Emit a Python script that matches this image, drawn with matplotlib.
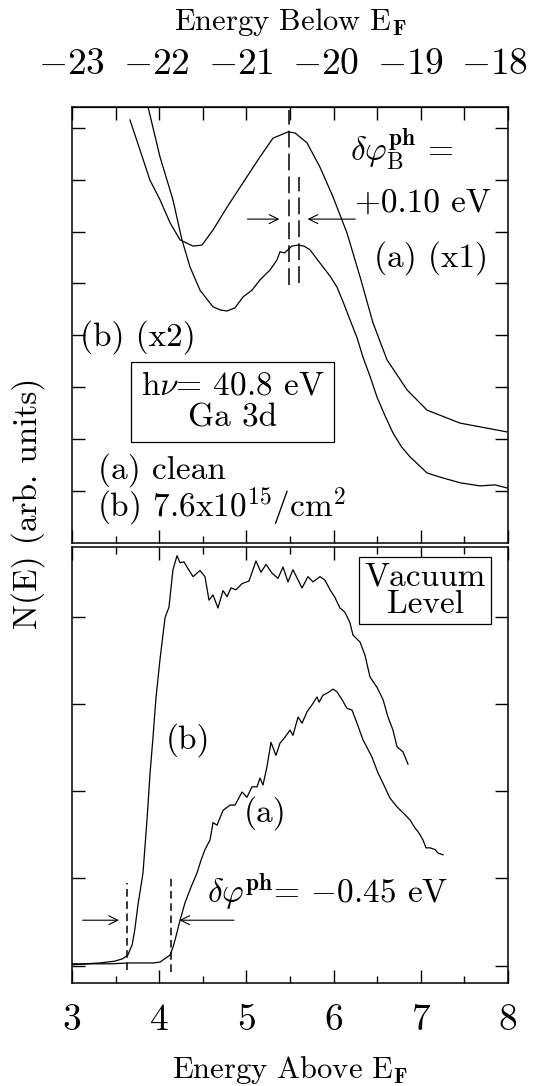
import numpy as np
import matplotlib
matplotlib.use("Agg")
import matplotlib.pyplot as plt

plt.rcParams['font.family'] = 'cmr10'
plt.rcParams['mathtext.fontset'] = 'cm'
plt.rcParams['axes.unicode_minus'] = False
plt.rcParams['axes.formatter.use_mathtext'] = True

# ---- top panel: Ga 3d core level, (a) clean x1, (b) covered x2
ga_a_x = [3.665, 3.78, 3.894, 4.01, 4.124, 4.239, 4.388, 4.491, 4.617, 4.778, 4.961, 5.156,
          5.305, 5.477, 5.557, 5.695, 5.844, 5.993, 6.154, 6.303, 6.452, 6.612, 6.842, 7.071,
          7.45, 7.989]
ga_a_y = [8.15, 7.57, 6.99, 6.61, 6.17, 5.84, 5.72, 5.74, 6.03, 6.47, 6.94, 7.44,
          7.80, 7.92, 7.90, 7.71, 7.24, 6.67, 5.97, 5.13, 4.24, 3.53, 2.95, 2.56,
          2.31, 2.14]
ga_b_x = [3.84, 3.872, 4.009, 4.158, 4.261, 4.353, 4.468, 4.617, 4.70, 4.778, 4.869, 4.961,
          5.064, 5.156, 5.271, 5.35, 5.385, 5.44, 5.477, 5.52, 5.592, 5.66, 5.729, 5.80,
          5.878, 5.96, 6.039, 6.11, 6.188, 6.27, 6.337, 6.42, 6.498, 6.59, 6.681, 6.78,
          6.876, 6.99, 7.071, 7.22, 7.45, 7.68, 7.85, 7.989]
ga_b_y = [8.63, 8.40, 7.44, 6.61, 5.84, 5.32, 4.87, 4.55, 4.49, 4.47, 4.53, 4.74,
          4.87, 5.07, 5.26, 5.45, 5.61, 5.59, 5.65, 5.72, 5.74, 5.72, 5.65, 5.49,
          5.32, 5.14, 4.93, 4.64, 4.30, 3.95, 3.58, 3.20, 2.81, 2.45, 2.12, 1.85,
          1.66, 1.48, 1.35, 1.27, 1.16, 1.10, 1.12, 1.06]

# ---- bottom panel: secondary electron cutoff
vl_b_x = [3.0, 3.15, 3.32, 3.49, 3.585, 3.64, 3.69, 3.72, 3.757, 3.814, 3.86, 3.894, 3.929,
          3.963, 4.009, 4.067, 4.112, 4.158, 4.204, 4.239, 4.284, 4.319, 4.388, 4.468, 4.525,
          4.571, 4.617, 4.674, 4.732, 4.778, 4.823, 4.881, 4.95, 5.03, 5.11, 5.167, 5.225,
          5.294, 5.362, 5.42, 5.477, 5.534, 5.638, 5.706, 5.764, 5.844, 5.901, 5.959, 6.016,
          6.073, 6.131, 6.188, 6.222, 6.303, 6.36, 6.417, 6.498, 6.567, 6.624, 6.681, 6.727,
          6.796, 6.853]
vl_b_y = [0.02, 0.02, 0.03, 0.05, 0.08, 0.12, 0.24, 0.41, 0.70, 1.06, 1.67, 2.19, 2.62,
          3.07, 3.51, 3.99, 4.11, 4.54, 4.70, 4.62, 4.63, 4.57, 4.46, 4.53, 4.46,
          4.19, 4.25, 4.10, 4.30, 4.23, 4.33, 4.31, 4.38, 4.41, 4.64, 4.51, 4.60,
          4.50, 4.44, 4.57, 4.40, 4.54, 4.33, 4.46, 4.40, 4.46, 4.42, 4.31, 4.22,
          4.10, 4.05, 3.93, 3.79, 3.71, 3.56, 3.31, 3.19, 3.05, 2.85, 2.70, 2.51,
          2.45, 2.31]
vl_a_x = [3.0, 3.21, 3.44, 3.665, 3.929, 4.01, 4.08, 4.124, 4.158, 4.181, 4.239, 4.296,
          4.365, 4.433, 4.48, 4.525, 4.583, 4.617, 4.663, 4.732, 4.812, 4.869, 4.95, 5.007,
          5.064, 5.122, 5.156, 5.19, 5.236, 5.282, 5.339, 5.385, 5.443, 5.50, 5.534, 5.592,
          5.638, 5.695, 5.752, 5.81, 5.833, 5.878, 5.936, 5.993, 6.039, 6.096, 6.154, 6.211,
          6.268, 6.337, 6.44, 6.509, 6.567, 6.647, 6.727, 6.819, 6.876, 6.933, 6.979, 7.025,
          7.06, 7.106, 7.163, 7.197, 7.255]
vl_a_y = [0.01, 0.02, 0.02, 0.03, 0.03, 0.04, 0.09, 0.12, 0.21, 0.29, 0.52, 0.72,
          0.90, 1.06, 1.21, 1.33, 1.44, 1.64, 1.61, 1.78, 1.84, 1.84, 1.99, 1.93,
          2.05, 2.05, 2.15, 2.07, 2.28, 2.56, 2.41, 2.55, 2.62, 2.70, 2.64, 2.85,
          2.78, 2.91, 2.99, 3.08, 3.02, 3.10, 3.13, 3.17, 3.14, 3.05, 2.95, 2.93,
          2.78, 2.59, 2.39, 2.21, 2.09, 1.92, 1.82, 1.73, 1.67, 1.58, 1.52, 1.44,
          1.35, 1.35, 1.33, 1.29, 1.27]

# peak / cutoff markers
top_dash_x = [5.49, 5.60]
top_dash_lo = [4.97, 5.0]
top_dash_hi = [8.35, 7.05]
bot_dash_x = [3.63, 4.13]
bot_dash_lo = [-0.05, -0.07]
bot_dash_hi = [0.95, 1.0]

x_ticks = [3, 4, 5, 6, 7, 8]
top_ticks = [-23, -22, -21, -20, -19, -18]


def to_below(x):
    return (x - 3) / 0.97 - 23


def to_above(t):
    return (t + 23) * 0.97 + 3


fig = plt.figure(figsize=(5.44, 10.86), dpi=100)
ax1 = fig.add_axes([72 / 544, 0.5, 436 / 544, 436 / 1086])
ax2 = fig.add_axes([72 / 544, 103 / 1086, 436 / 544, 436 / 1086])

tl = 9.4  # major tick length (pt)
for ax in (ax1, ax2):
    ax.set_xlim(3, 8)
    ax.set_xticks(x_ticks)
    ax.set_xticks(np.arange(3.5, 8, 1.0), minor=True)
    ax.tick_params(axis='both', which='major', direction='in', length=tl, width=1)
    ax.tick_params(axis='x', which='minor', direction='in', length=4.8, width=1)
    ax.tick_params(axis='y', left=True, right=True, labelleft=False)
    for s in ax.spines.values():
        s.set_linewidth(1.1)

# top panel
ax1.set_ylim(0, 8.4)
ax1.set_yticks(range(1, 9))
ax1.tick_params(axis='x', which='both', top=False, bottom=True, labelbottom=False)
ticks_top = ax1.secondary_xaxis('top')
ticks_top.set_xticks(np.arange(3, 8.01, 0.5))
ticks_top.tick_params(direction='in', length=tl, width=1, labeltop=False)
lab_top = ax1.secondary_xaxis('top', functions=(to_below, to_above))
lab_top.set_xticks(top_ticks, labels=['$%d$' % t for t in top_ticks])
lab_top.tick_params(length=0, pad=19, labelsize=27)

ax1.plot(ga_a_x, ga_a_y, 'k-', lw=0.9)
ax1.plot(ga_b_x, ga_b_y, 'k-', lw=0.9)
ax1.vlines(top_dash_x, top_dash_lo, top_dash_hi, colors='k', lw=1.1,
           linestyles=(0, (11, 4)))
ap = dict(arrowstyle='->', lw=0.8, color='k', mutation_scale=16)
ax1.annotate('', xy=(5.41, 6.24), xytext=(4.98, 6.24), arrowprops=ap)
ax1.annotate('', xy=(5.67, 6.24), xytext=(6.28, 6.24), arrowprops=ap)

fs = 24
ax1.text(6.78, 7.34, r'$\delta\varphi^{\mathbf{ph}}_{\mathrm{B}}$ =', fontsize=fs,
         ha='center', va='baseline')
ax1.text(7.03, 6.38, '+0.10 eV', fontsize=fs, ha='center', va='baseline')
ax1.text(7.12, 5.32, '(a) (x1)', fontsize=fs, ha='center', va='baseline')
ax1.text(3.09, 3.81, '(b) (x2)', fontsize=fs, ha='left', va='baseline')
ax1.text(4.84, 2.72, 'h$\\nu$= 40.8 eV\nGa 3d', fontsize=fs, ha='center', va='center',
         linespacing=1.1,
         bbox=dict(boxstyle='square,pad=0.3', fc='white', ec='k', lw=0.9))
ax1.text(3.30, 1.25, '(a) clean', fontsize=fs, ha='left', va='baseline')
ax1.text(3.29, 0.50, '(b) 7.6x10$^{15}$/cm$^{2}$', fontsize=fs, ha='left', va='baseline')

# bottom panel
ax2.set_ylim(-0.2, 4.8)
ax2.set_yticks(range(0, 5))
ax2.tick_params(axis='x', which='both', top=True, bottom=True)
ax2.tick_params(axis='x', which='major', labelsize=27, pad=15)
ax2.set_xticklabels([str(t) for t in x_ticks])

ax2.plot(vl_b_x, vl_b_y, 'k-', lw=0.9)
ax2.plot(vl_a_x, vl_a_y, 'k-', lw=0.9)
ax2.vlines(bot_dash_x, bot_dash_lo, bot_dash_hi, colors='k', lw=1.1,
           linestyles=(0, (5, 3)))
ax2.annotate('', xy=(3.57, 0.52), xytext=(3.09, 0.52), arrowprops=ap)
ax2.annotate('', xy=(4.20, 0.52), xytext=(4.89, 0.52), arrowprops=ap)

ax2.text(7.05, 4.30, 'Vacuum\nLevel', fontsize=fs, ha='center', va='center',
         linespacing=0.95,
         bbox=dict(boxstyle='square,pad=0.15', fc='white', ec='k', lw=0.9))
ax2.text(4.33, 2.59, '(b)', fontsize=fs, ha='center', va='center')
ax2.text(5.21, 1.75, '(a)', fontsize=fs, ha='center', va='center')
ax2.text(4.55, 0.72, r'$\delta\varphi^{\mathbf{ph}}$= $-$0.45 eV', fontsize=fs,
         ha='left', va='baseline')

fig.text(290 / 544, 1 - 22 / 1086, r'Energy Below E$_{\mathbf{F}}$', fontsize=22,
         ha='center', va='center')
fig.text(290 / 544, 1 - 1070 / 1086, r'Energy Above E$_{\mathbf{F}}$', fontsize=22,
         ha='center', va='center')
fig.text(28 / 544, 1 - 503 / 1086, 'N(E) (arb. units)', fontsize=24, rotation=90,
         ha='center', va='center')

fig.savefig('out.png', dpi=100)
